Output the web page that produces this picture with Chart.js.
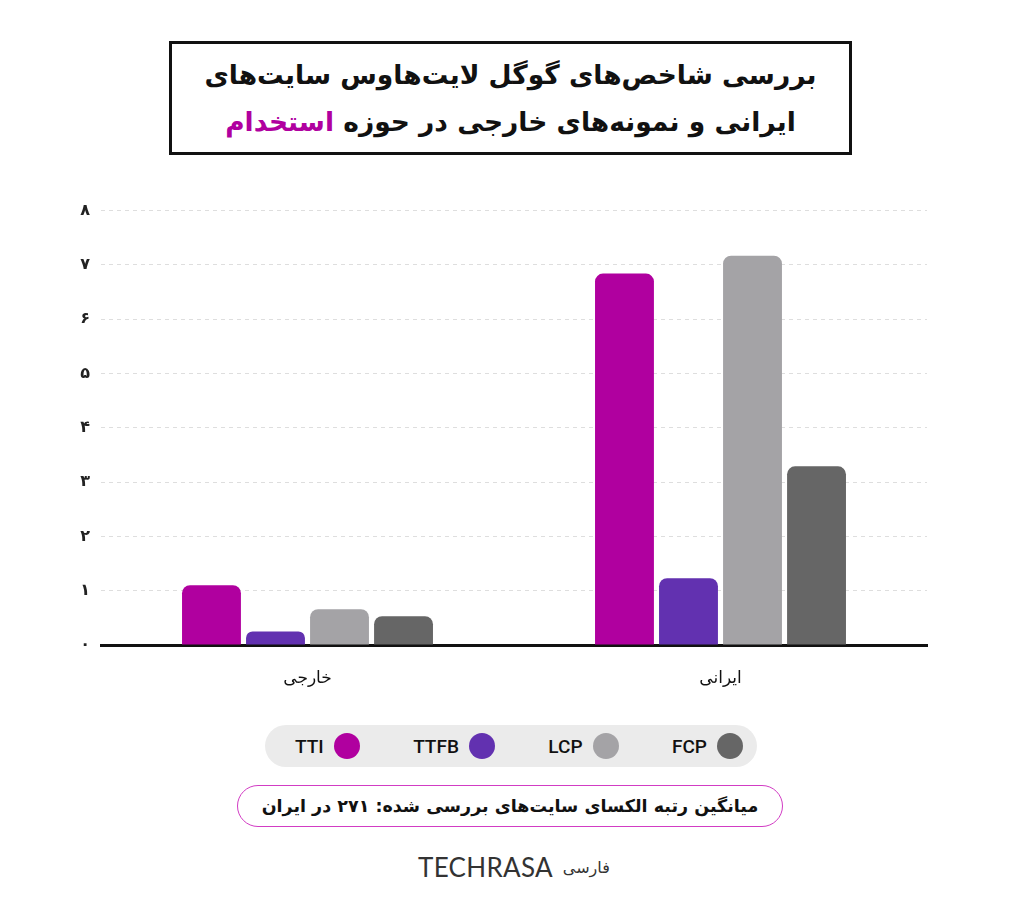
<!DOCTYPE html>
<html lang="fa">
<head>
<meta charset="utf-8">
<title>Lighthouse chart</title>
<script src="https://cdn.jsdelivr.net/npm/chart.js@4.4.0/dist/chart.umd.min.js"></script>
<style>
  body { margin: 0; width: 1024px; height: 903px; background: #fff; position: relative; overflow: hidden;
         font-family: "DejaVu Sans", "Noto Sans", sans-serif; color: #111; }
  #title { position: absolute; left: 169px; top: 41px; width: 677px; height: 108px; border: 3px solid #111;
           display: flex; align-items: center; justify-content: center; }
  #title .txt { text-align: center; font-weight: bold; font-size: 26.5px; line-height: 47px; white-space: nowrap; }
  #title .hl { color: #b0009f; }
  #wrap { position: absolute; left: 0; top: 190px; width: 1024px; height: 505px; }
  #legend { position: absolute; left: 265px; top: 725px; width: 492px; height: 42px; background: #ebebeb;
            border-radius: 21px; box-sizing: border-box; padding: 0 14px 0 30px;
            display: flex; align-items: center; justify-content: space-between;
            font-family: Roboto, sans-serif; font-weight: 500; font-size: 19px; }
  #legend .item { display: flex; align-items: center; gap: 10px; }
  #legend .dot { width: 26px; height: 26px; border-radius: 50%; }
  #note { position: absolute; left: 237px; top: 785px; width: 546px; height: 42px; box-sizing: border-box;
          border: 1.5px solid #d23cc4; border-radius: 21px; display: flex; align-items: center;
          justify-content: center; }
  #note span { font-weight: bold; font-size: 17.5px; white-space: nowrap; }
  #logo { position: absolute; left: 418px; top: 851px; display: flex; align-items: center; gap: 10px; color: #333; }
  #logo .en { font-family: Lato, sans-serif; font-weight: 400; font-size: 26px; letter-spacing: 0.3px; }
  #logo .fa { font-size: 16px; }
</style>
</head>
<body>
<div id="title"><div class="txt" dir="rtl">بررسی شاخص&zwnj;های گوگل لایت&zwnj;هاوس سایت&zwnj;های<br>ایرانی و نمونه&zwnj;های خارجی در حوزه <span class="hl">استخدام</span></div></div>
<div id="wrap"><canvas id="chart"></canvas></div>
<div id="legend"></div>
<div id="note"><span dir="rtl">میانگین رتبه الکسای سایت&zwnj;های بررسی شده: ۲۷۱ در ایران</span></div>
<div id="logo"><span class="en">TECHRASA</span><span class="fa">فارسی</span></div>

<script>
// data
const categories = ['خارجی', 'ایرانی'];
const seriesNames = ['TTI', 'TTFB', 'LCP', 'FCP'];
const tti  = [1.1, 6.84];
const ttfb = [0.25, 1.23];
const lcp  = [0.66, 7.17];
const fcp  = [0.53, 3.29];
const yTickLabels = ['۰', '۱', '۲', '۳', '۴', '۵', '۶', '۷', '۸'];

const colors = ['#b0009f', '#6231b0', '#a4a3a6', '#666666'];
const values = [tti, ttfb, lcp, fcp];

// legend pill
const legend = document.getElementById('legend');
seriesNames.forEach((name, i) => {
  const item = document.createElement('div');
  item.className = 'item';
  item.innerHTML = '<span>' + name + '</span><span class="dot" style="background:' + colors[i] + '"></span>';
  legend.appendChild(item);
});

const ctx = document.getElementById('chart').getContext('2d');
new Chart(ctx, {
  type: 'bar',
  data: {
    labels: categories,
    datasets: seriesNames.map((name, i) => ({
      label: name,
      data: values[i],
      backgroundColor: colors[i],
      borderRadius: { topLeft: 8, topRight: 8, bottomLeft: 0, bottomRight: 0 },
      borderSkipped: 'start',
      categoryPercentage: 0.62,
      barPercentage: 0.92
    }))
  },
  options: {
    responsive: true,
    maintainAspectRatio: false,
    animation: false,
    layout: { padding: { top: 20, right: 97, left: 0, bottom: 0 } },
    plugins: { legend: { display: false }, tooltip: { enabled: false } },
    scales: {
      x: {
        z: 1,
        grid: { display: false },
        border: { display: true, color: '#111', width: 3 },
        ticks: { color: '#111', padding: 15, font: { family: 'DejaVu Sans', size: 17 } },
        afterFit: (scale) => { scale.height = 50; }
      },
      y: {
        min: 0,
        max: 8,
        border: { display: false, dash: [4, 4] },
        grid: {
          drawTicks: false,
          color: (c) => (c.tick && c.tick.value === 0 ? 'rgba(0,0,0,0)' : '#dedede'),
          lineWidth: 1
        },
        ticks: {
          stepSize: 1,
          padding: 11,
          color: '#222',
          font: { family: 'DejaVu Sans', size: 16, weight: 'bold' },
          callback: (v) => yTickLabels[v]
        },
        afterFit: (scale) => { scale.width = 101; }
      }
    }
  }
});
</script>
</body>
</html>
